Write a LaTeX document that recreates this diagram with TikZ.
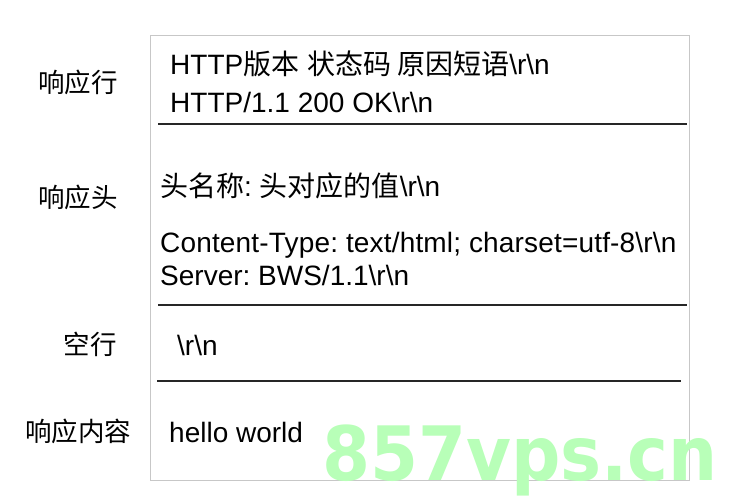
\documentclass[tikz,border=0pt]{standalone}
\usepackage{fontspec}
\setmainfont{Liberation Sans}
\newfontfamily\cjk{Noto Sans CJK SC}
\newfontfamily\wmfont{DejaVu Sans}
\frenchspacing
\begin{document}
\begin{tikzpicture}[x=1pt,y=-1pt,
  txt/.style={anchor=base west,inner sep=0pt,font=\fontsize{28}{30}\selectfont},
  lbl/.style={anchor=base,inner sep=0pt,font=\fontsize{26.5}{30}\selectfont\cjk},
  rule/.style={line width=1.3pt,black!85}]
\useasboundingbox (0,0) rectangle (735,500);
\fill[white] (0,0) rectangle (735,500);
\node[draw=black!22,line width=1pt,minimum width=539pt,minimum height=445pt,anchor=north west,inner sep=0pt] (box) at (150,35) {};
% rules
\coordinate (r1a) at (158,124); \coordinate (r1b) at (687,124);
\coordinate (r2a) at (158,305); \coordinate (r2b) at (687,305);
\coordinate (r3a) at (157,381); \coordinate (r3b) at (681,381);
\draw[rule] (r1a) -- (r1b);
\draw[rule] (r2a) -- (r2b);
\draw[rule] (r3a) -- (r3b);
% texts
\node[txt] (t1) at (170,75) {HTTP{\cjk 版本}\hspace{0.3em}{\cjk 状态码}\hspace{0.2em}{\cjk 原因短语}\textbackslash r\textbackslash n};
\node[txt] (t2) at (170,113) {HTTP/1.1 200 OK\textbackslash r\textbackslash n};
\node[txt] (t3) at (160,196) {{\cjk 头名称}: {\cjk 头对应的值}\textbackslash r\textbackslash n};
\node[txt] (t4) at (160,252) {\addfontfeature{LetterSpace=0.6}Content-Type: text/html; charset=utf-8\textbackslash r\textbackslash n};
\node[txt] (t5) at (160,285) {Server: BWS/1.1\textbackslash r\textbackslash n};
\node[txt] (t6) at (177,355) {\textbackslash r\textbackslash n};
\node[txt] (t7) at (169,442) {hello world};
% labels
\node[lbl] (l1) at (78,93) {响应行};
\node[lbl] (l2) at (78,207) {响应头};
\node[lbl] (l3) at (90,354) {空行};
\node[lbl] (l4) at (78,441) {响应内容};
% watermark
\node[anchor=base west,inner sep=0pt,text=green!28,xscale=0.92,font=\fontsize{75}{80}\selectfont\wmfont\bfseries] (wm) at (322,480) {857vps.cn};
\end{tikzpicture}
\end{document}
